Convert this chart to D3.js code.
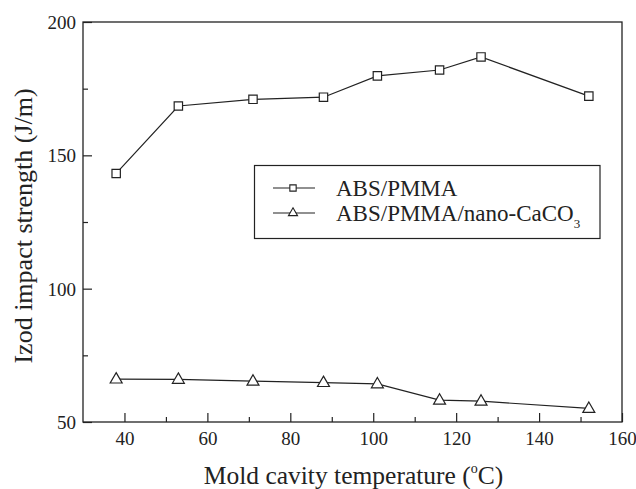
<!DOCTYPE html>
<meta charset="utf-8">
<script src="https://d3js.org/d3.v7.min.js"></script>
<body style="margin:0">
<script>
// data
var temps = [38, 53, 71, 88, 101, 116, 126, 152];
var absPmma = [143.2, 168.5, 171, 171.8, 179.8, 182, 186.9, 172.2];
var absNano = [66.1, 66, 65.3, 64.8, 64.3, 58.2, 57.8, 55.1];
var xTicks = [40, 60, 80, 100, 120, 140, 160];
var yTicks = [50, 100, 150, 200];

var width = 636, height = 489;
var margin = {top: 22, right: 14, bottom: 67, left: 83};
var ink = "#222";
var serif = "Liberation Serif";

var svg = d3.select("body").append("svg")
    .attr("width", width)
    .attr("height", height);

var x = d3.scaleLinear().domain([30, 160]).range([margin.left, width - margin.right]);
var y = d3.scaleLinear().domain([50, 200]).range([height - margin.bottom, margin.top]);

// frame
svg.append("rect")
    .attr("x", x(30)).attr("y", y(200))
    .attr("width", x(160) - x(30)).attr("height", y(50) - y(200))
    .attr("fill", "none").attr("stroke", ink).attr("stroke-width", 1.3);

// x axis: inward ticks, minor every 10
var xMinor = d3.range(50, 160, 20);
svg.append("g")
    .attr("transform", "translate(0," + y(50) + ")")
    .call(d3.axisTop(x).tickValues(xMinor).tickSize(5).tickFormat(""))
    .call(function (g) { g.select(".domain").remove(); });
var gx = svg.append("g")
    .attr("transform", "translate(0," + y(50) + ")")
    .call(d3.axisTop(x).tickValues(xTicks).tickSize(9))
    .call(function (g) { g.select(".domain").remove(); });
gx.selectAll("text")
    .attr("y", 23).attr("dy", 0);

// y axis
var yMinor = [75, 125, 175];
svg.append("g")
    .attr("transform", "translate(" + x(30) + ",0)")
    .call(d3.axisRight(y).tickValues(yMinor).tickSize(5).tickFormat(""))
    .call(function (g) { g.select(".domain").remove(); });
var gy = svg.append("g")
    .attr("transform", "translate(" + x(30) + ",0)")
    .call(d3.axisRight(y).tickValues(yTicks).tickSize(9))
    .call(function (g) { g.select(".domain").remove(); });
gy.selectAll("text")
    .attr("x", -7).attr("dy", "0.34em")
    .attr("text-anchor", "end");

svg.selectAll("g").attr("font-family", null).attr("font-size", null);
svg.selectAll(".tick line").attr("stroke", ink).attr("stroke-width", 1.2);
svg.selectAll(".tick text").attr("fill", ink).attr("font-size", 19);

// lines
var line = d3.line()
    .x(function (d) { return x(d[0]); })
    .y(function (d) { return y(d[1]); });

var s1 = d3.zip(temps, absPmma);
var s2 = d3.zip(temps, absNano);

svg.append("path").datum(s1).attr("d", line)
    .attr("fill", "none").attr("stroke", ink).attr("stroke-width", 1.2);
svg.append("path").datum(s2).attr("d", line)
    .attr("fill", "none").attr("stroke", ink).attr("stroke-width", 1.2);

var sq = d3.symbol().type(d3.symbolSquare).size(70);
var tri = d3.symbol().type(d3.symbolTriangle).size(62);

svg.append("g").selectAll("path").data(s1).enter().append("path")
    .attr("d", sq)
    .attr("transform", function (d) { return "translate(" + x(d[0]) + "," + y(d[1]) + ")"; })
    .attr("fill", "#fff").attr("stroke", ink).attr("stroke-width", 1.2);
svg.append("g").selectAll("path").data(s2).enter().append("path")
    .attr("d", tri)
    .attr("transform", function (d) { return "translate(" + x(d[0]) + "," + (y(d[1]) + 0.5) + ")"; })
    .attr("fill", "#fff").attr("stroke", ink).attr("stroke-width", 1.2);

// legend
var lg = svg.append("g");
lg.append("rect")
    .attr("x", 254.5).attr("y", 165.5).attr("width", 345.5).attr("height", 73)
    .attr("fill", "#fff").attr("stroke", ink).attr("stroke-width", 1.2);
var rows = [
  {label: "ABS/PMMA", sym: d3.symbol().type(d3.symbolSquare).size(40), cy: 188},
  {label: "ABS/PMMA/nano-CaCO", sub: "3", sym: d3.symbol().type(d3.symbolTriangle).size(36), cy: 213}
];
rows.forEach(function (r) {
  lg.append("line").attr("x1", 273).attr("x2", 315).attr("y1", r.cy).attr("y2", r.cy)
      .attr("stroke", ink).attr("stroke-width", 1.2);
  lg.append("path").attr("d", r.sym)
      .attr("transform", "translate(293," + r.cy + ")")
      .attr("fill", "#fff").attr("stroke", ink).attr("stroke-width", 1.1);
  var t = lg.append("text").attr("x", 336).attr("y", r.cy + 7.5)
      .attr("fill", ink).attr("font-size", 23).text(r.label);
  if (r.sub) {
    t.append("tspan").attr("dy", 7).attr("font-size", 13).text(r.sub);
  }
});

// axis titles
var xt = svg.append("text")
    .attr("x", (x(30) + x(160)) / 2 + 1).attr("y", 484)
    .attr("text-anchor", "middle")
    .attr("fill", ink).attr("font-size", 25.5)
    .text("Mold cavity temperature (");
xt.append("tspan").attr("dy", -11).attr("font-size", 14).text("o");
xt.append("tspan").attr("dy", 11).text("C)");

svg.append("text")
    .attr("transform", "translate(32," + ((y(50) + y(200)) / 2 + 4) + ") rotate(-90)")
    .attr("text-anchor", "middle")
    .attr("fill", ink).attr("font-size", 26)
    .text("Izod impact strength (J/m)");

// one font for every label
svg.selectAll("text")
    .attr("font-family", serif)
    .style("font-family", serif, "important");
</script>
</body>
